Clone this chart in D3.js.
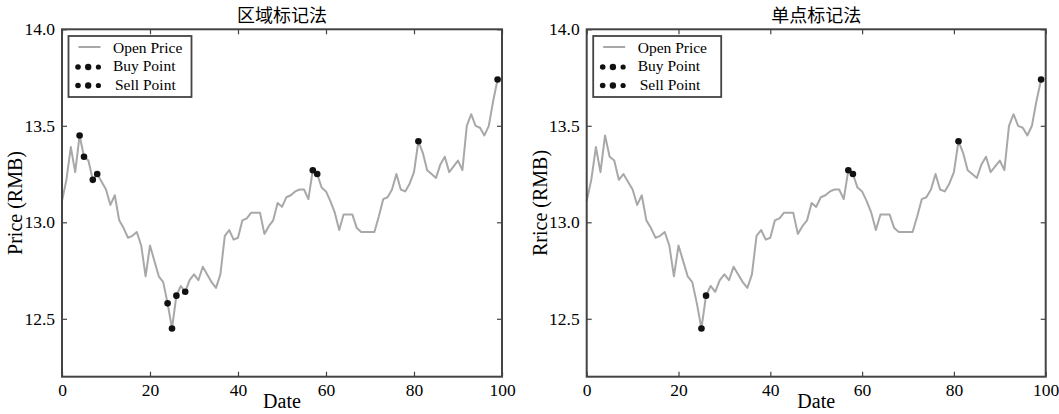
<!DOCTYPE html>
<html>
<head>
<meta charset="utf-8">
<script src="https://cdn.jsdelivr.net/npm/d3@7"></script>
<style>
  body { margin: 0; background: #fff; }
  svg text { font-family: "Liberation Serif", "Times New Roman", serif; fill: #000; }
  .cjk { font-family: "Noto Sans CJK SC", sans-serif; }
</style>
</head>
<body>
<svg id="drawing_region"></svg>
<script>
// open price per day (index = date)
const openPrice = [
  13.11, 13.22, 13.39, 13.26, 13.45, 13.34, 13.32, 13.22, 13.25, 13.21,
  13.17, 13.09, 13.14, 13.01, 12.97, 12.92, 12.93, 12.95, 12.88, 12.72,
  12.88, 12.80, 12.72, 12.69, 12.58, 12.45, 12.62, 12.67, 12.64, 12.70,
  12.73, 12.70, 12.77, 12.73, 12.69, 12.66, 12.73, 12.93, 12.96, 12.91,
  12.92, 13.01, 13.02, 13.05, 13.05, 13.05, 12.94, 12.98, 13.01, 13.10,
  13.08, 13.13, 13.14, 13.16, 13.17, 13.17, 13.12, 13.27, 13.25, 13.18,
  13.16, 13.11, 13.05, 12.96, 13.04, 13.04, 13.04, 12.97, 12.95, 12.95,
  12.95, 12.95, 13.03, 13.12, 13.13, 13.17, 13.25, 13.17, 13.16, 13.20,
  13.26, 13.42, 13.36, 13.27, 13.25, 13.23, 13.30, 13.34, 13.26, 13.29,
  13.32, 13.27, 13.50, 13.56, 13.50, 13.49, 13.45, 13.50, 13.63, 13.74
];

// marked dates
const areaBuy  = [7, 8, 24, 25, 26, 28];
const areaSell = [4, 5, 57, 58, 81, 99];
const pointBuy  = [25, 26];
const pointSell = [57, 58, 81, 99];

const xTicks = [0, 20, 40, 60, 80, 100];
const yTicks = [12.5, 13.0, 13.5, 14.0];
const xDomain = [0, 100];
const yDomain = [12.2, 14.0];

const legendLabels = ['Open Price', 'Buy Point', 'Sell Point'];

const svg = d3.select('#drawing_region')
    .attr('width', 1059)
    .attr('height', 414);

class LineChart {

    constructor( config ) {
        this.config = config;
        this.init();
    }

    init() {
        let self = this;
        const c = self.config;

        self.g = svg.append('g');

        self.xscale = d3.scaleLinear()
            .domain(xDomain)
            .range([c.left, c.right]);

        self.yscale = d3.scaleLinear()
            .domain(yDomain)
            .range([c.bottom, c.top]);
    }

    render() {
        let self = this;
        const c = self.config;
        const xs = self.xscale, ys = self.yscale;
        const frameColor = '#444';

        // line
        const line = d3.line()
            .x( (d, i) => xs(i) )
            .y( d => ys(d) );

        self.g.append('path')
            .datum(openPrice)
            .attr('d', line)
            .attr('fill', 'none')
            .attr('stroke', '#a8a8a8')
            .attr('stroke-width', 2)
            .attr('stroke-linejoin', 'round');

        // buy / sell markers
        const marks = c.buy.concat(c.sell);
        self.g.selectAll('circle.mark')
            .data(marks)
            .enter()
            .append('circle')
            .attr('class', 'mark')
            .attr('cx', d => xs(d))
            .attr('cy', d => ys(openPrice[d]))
            .attr('r', 3.3)
            .attr('fill', '#111');

        // axes with inward ticks
        const axes = [
            { ax: d3.axisBottom(xs).tickValues(xTicks).tickFormat(d3.format('d')), t: `translate(0,${c.bottom})`, lab: true },
            { ax: d3.axisTop(xs).tickValues(xTicks).tickFormat(''), t: `translate(0,${c.top})`, lab: false },
            { ax: d3.axisLeft(ys).tickValues(yTicks).tickFormat(d3.format('.1f')), t: `translate(${c.left},0)`, lab: true },
            { ax: d3.axisRight(ys).tickValues(yTicks).tickFormat(''), t: `translate(${c.right},0)`, lab: false }
        ];
        axes.forEach( a => {
            const g = self.g.append('g')
                .attr('transform', a.t)
                .call(a.ax.tickSizeInner(-5).tickSizeOuter(0).tickPadding(a.lab ? 7 : 0));
            g.select('.domain').remove();
            g.selectAll('.tick line').attr('stroke', frameColor).attr('stroke-width', 1.2);
            g.selectAll('.tick text')
                .style('font-family', '"Liberation Serif", serif')
                .style('font-size', '17.5px')
                .attr('fill', '#000');
        });

        // frame
        self.g.append('rect')
            .attr('x', c.left)
            .attr('y', c.top)
            .attr('width', c.right - c.left)
            .attr('height', c.bottom - c.top)
            .attr('fill', 'none')
            .attr('stroke', frameColor)
            .attr('stroke-width', 2);

        // title & labels
        self.g.append('text')
            .attr('class', 'cjk')
            .attr('x', (c.left + c.right) / 2)
            .attr('y', 22)
            .attr('text-anchor', 'middle')
            .style('font-size', '18px')
            .text(c.title);

        self.g.append('text')
            .attr('x', (c.left + c.right) / 2)
            .attr('y', 408)
            .attr('text-anchor', 'middle')
            .style('font-size', '20px')
            .text('Date');

        self.g.append('text')
            .attr('transform', `translate(${c.left - 40}, ${(c.top + c.bottom) / 2}) rotate(-90)`)
            .attr('text-anchor', 'middle')
            .style('font-size', '20px')
            .text(c.ylabel);

        // legend
        const lx = c.left + 6.5, ly = 36;
        const lg = self.g.append('g');
        lg.append('rect')
            .attr('x', lx)
            .attr('y', ly)
            .attr('width', c.legendWidth)
            .attr('height', 61)
            .attr('fill', '#fff')
            .attr('stroke', frameColor)
            .attr('stroke-width', 1.8);

        lg.append('line')
            .attr('x1', lx + 10).attr('x2', lx + 32)
            .attr('y1', ly + 11).attr('y2', ly + 11)
            .attr('stroke', '#a8a8a8')
            .attr('stroke-width', 2);

        const dotRadius = [2.8, 3.2, 2.6];
        [ly + 31, ly + 49.5].forEach( yy => {
            lg.selectAll(null)
                .data(dotRadius)
                .enter()
                .append('circle')
                .attr('cx', (d, i) => lx + 9.5 + i * 10.2)
                .attr('cy', yy)
                .attr('r', d => d)
                .attr('fill', '#111');
        });

        lg.selectAll('text')
            .data(legendLabels)
            .enter()
            .append('text')
            .attr('x', (d, i) => lx + (i === 2 ? 46.5 : 44.5))
            .attr('y', (d, i) => ly + 16.5 + i * 18.7)
            .style('font-size', '15.5px')
            .text(d => d);
    }
}

const left = new LineChart({
    left: 62, right: 502, top: 29.3, bottom: 376.7,
    title: '区域标记法', ylabel: 'Price (RMB)',
    buy: areaBuy, sell: areaSell, legendWidth: 123
});
left.render();

const right = new LineChart({
    left: 586.7, right: 1045.7, top: 29.3, bottom: 376.7,
    title: '单点标记法', ylabel: 'Rrice (RMB)',
    buy: pointBuy, sell: pointSell, legendWidth: 128
});
right.render();
</script>
</body>
</html>
